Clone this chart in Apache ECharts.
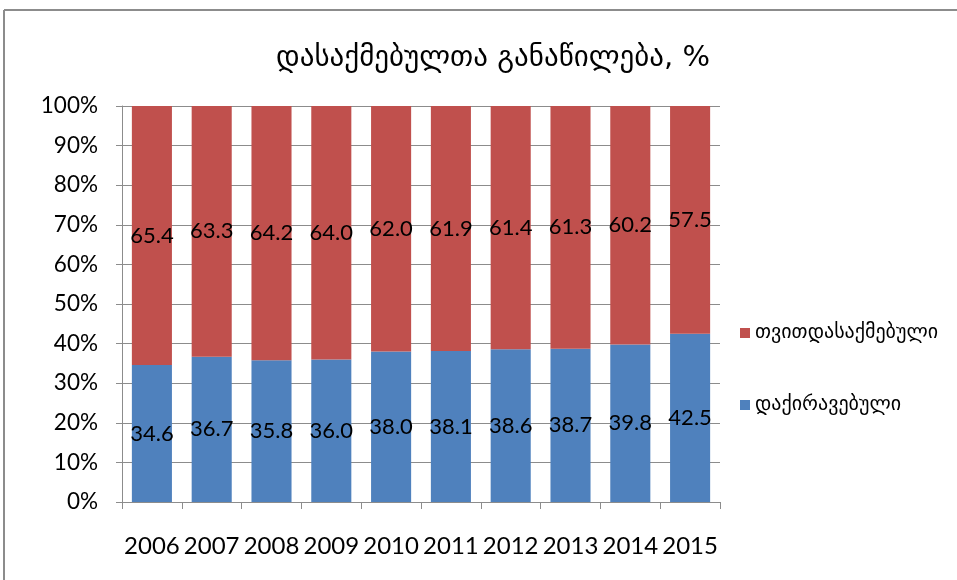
<!DOCTYPE html>
<html>
<head>
<meta charset="utf-8">
<script src="https://cdn.jsdelivr.net/npm/echarts@6/dist/echarts.min.js"></script>
<style>html,body{margin:0;padding:0;background:#fff}#c{width:957px;height:580px}</style>
</head>
<body>
<div id="c"></div>
<script>
var years = ['2006','2007','2008','2009','2010','2011','2012','2013','2014','2015'];
var hired = [34.6,36.7,35.8,36.0,38.0,38.1,38.6,38.7,39.8,42.5];
var selfEmployed = [65.4,63.3,64.2,64.0,62.0,61.9,61.4,61.3,60.2,57.5];
var titleText = 'დასაქმებულთა განაწილება, %';
var hiredName = 'დაქირავებული';
var selfName = 'თვითდასაქმებული';

var chart = echarts.init(document.getElementById('c'));
var numFont = 'Lato, "Open Sans", sans-serif';
var geoFont = '"DejaVu Sans", sans-serif';
var labelCfg = {
  show: true, position: 'inside', color: '#000', fontFamily: numFont, fontSize: 22,
  formatter: function(p){ return p.value.toFixed(1); }
};
chart.setOption({
  animation: false,
  backgroundColor: '#fff',
  graphic: [
    {type:'line', shape:{x1:4,y1:10,x2:957,y2:10}, style:{stroke:'#8c8c8c', lineWidth:2}},
    {type:'line', shape:{x1:4,y1:10,x2:4,y2:580}, style:{stroke:'#8c8c8c', lineWidth:2}}
  ],
  title: {
    text: titleText, left: 488, textAlign: 'center', top: 39,
    textStyle: {fontFamily: geoFont, fontSize: 29, fontWeight: 'normal', color: '#000'}
  },
  legend: {
    orient: 'vertical', left: 735, top: 318, itemWidth: 10, itemHeight: 10, itemGap: 52,
    icon: 'rect',
    textStyle: {fontFamily: geoFont, fontSize: 20, color: '#000'},
    data: [selfName, hiredName]
  },
  grid: {left: 122, right: 237, top: 106, bottom: 78},
  xAxis: {
    type: 'category', data: years,
    axisLine: {lineStyle: {color: '#8c8c8c'}},
    axisTick: {show: true, length: 7, lineStyle: {color: '#8c8c8c'}},
    axisLabel: {color: '#000', fontFamily: numFont, fontSize: 24, margin: 32, interval: 0}
  },
  yAxis: {
    type: 'value', min: 0, max: 100, interval: 10,
    axisLine: {show: true, lineStyle: {color: '#8c8c8c'}},
    axisTick: {show: true, length: 6, lineStyle: {color: '#8c8c8c'}},
    splitLine: {lineStyle: {color: '#8c8c8c'}},
    axisLabel: {color: '#000', fontFamily: numFont, fontSize: 22.5, margin: 24, formatter: '{value}%'}
  },
  series: [
    {name: hiredName, type: 'bar', stack: 's', data: hired, barWidth: '67%',
     itemStyle: {color: '#4F81BD'}, label: labelCfg},
    {name: selfName, type: 'bar', stack: 's', data: selfEmployed, barWidth: '67%',
     itemStyle: {color: '#C0504D'}, label: labelCfg}
  ]
});
</script>
</body>
</html>
